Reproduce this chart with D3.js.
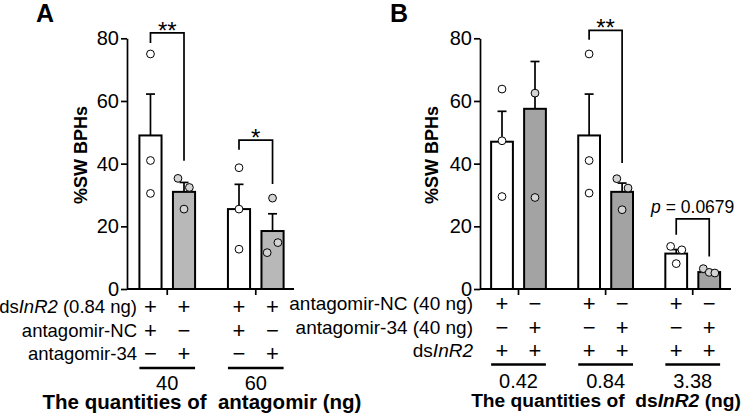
<!DOCTYPE html>
<html>
<head>
<meta charset="utf-8">
<script src="https://cdn.jsdelivr.net/npm/d3@7"></script>
<style>
  body { margin: 0; background: #fff; }
  svg { font-family: "Liberation Sans", Arial, sans-serif; }
  .axis path, .axis line { stroke: #000; stroke-width: 1.7px; }
  .axis text { font-size: 20px; fill: #000; }
</style>
</head>
<body>
<div id="chart"></div>
<script>
// ---- data ----
const yTicks = [0, 20, 40, 60, 80];

// panel A: antagomir dose series
const aGroups = ["40", "60"];
const aMeans = [49, 31, 25.5, 18.5];
const aErrTop = [62.2, 34, 33.4, 24];
const aPoints = [[75, 41, 30.5], [35.3, 32.4, 25.5], [38.7, 25.5, 12.7], [29, 11.6, 14.8]];
const aJitter = [[0, 0, 0], [-0.18, 0.16, 0], [0, 0, 0], [0, -0.16, 0.16]];
const aRowLabels = [["ds", "InR2", " (0.84 ng)"], ["antagomir-NC"], ["antagomir-34"]];
const aRowSigns = [["+", "+", "+", "+"], ["+", "−", "+", "−"], ["−", "+", "−", "+"]];

// panel B: dsInR2 dose series
const bGroups = ["0.42", "0.84", "3.38"];
const bMeans = [47, 57.5, 49, 31, 11.3, 5.4];
const bErrTop = [56.7, 72.6, 62.2, 33.8, 12.6, 6];
const bPoints = [[63.8, 47.3, 29.5], [62.5, 29.2], [75, 41, 30.6], [35.2, 32.2, 25.3], [13.6, 12.5, 8.1], [6.5, 5.3, 5.1]];
const bJitter = [[0, 0, 0], [0, 0], [0, 0, 0], [-0.16, 0.18, 0], [-0.17, 0.17, 0], [-0.18, 0, 0.17]];
const bRowLabels = [["antagomir-NC (40 ng)"], ["antagomir-34 (40 ng)"], ["ds", "InR2", ""]];
const bRowSigns = [["+", "−", "+", "−", "+", "−"], ["−", "+", "−", "+", "−", "+"], ["+", "+", "+", "+", "+", "+"]];

const W = 746, H = 415;
const svg = d3.select("#chart").append("svg").attr("width", W).attr("height", H);

function drawPanel(p) {
    const g = svg.append("g");
    const x = d3.scaleLinear().domain(p.xDomain).range([p.left, p.right]);
    const y = d3.scaleLinear().domain([0, 80]).range([289, 38.3]);
    const slot = i => Math.floor(i / 2) * 2.64 + (i % 2);
    const bw = 0.66;

    // panel letter
    g.append("text").attr("x", p.letterX).attr("y", 22)
        .style("font-size", "25px").style("font-weight", "bold").text(p.letter);

    // y axis
    g.append("g").attr("class", "axis")
        .attr("transform", `translate(${p.left},0)`)
        .call(d3.axisLeft(y).tickValues(yTicks).tickSize(6).tickPadding(2).tickSizeOuter(0));

    g.append("text")
        .attr("transform", `translate(${p.yLabelX},155) rotate(-90)`)
        .attr("text-anchor", "middle")
        .style("font-size", "18px").style("font-weight", "bold")
        .text("%SW BPHs");

    // bars
    g.selectAll(".bar").data(p.means).enter().append("rect")
        .attr("x", (d, i) => x(slot(i) - bw / 2))
        .attr("width", x(bw) - x(0))
        .attr("y", d => y(d))
        .attr("height", d => y(0) - y(d))
        .attr("fill", (d, i) => i % 2 ? p.gray : "#fff")
        .attr("stroke", "#000").attr("stroke-width", 2);

    // error bars (upper only)
    p.errTop.forEach((e, i) => {
        const cx = x(slot(i));
        g.append("line").attr("x1", cx).attr("x2", cx)
            .attr("y1", y(p.means[i])).attr("y2", y(e))
            .attr("stroke", "#000").attr("stroke-width", 1.7);
        g.append("line").attr("x1", cx - 4.5).attr("x2", cx + 4.5)
            .attr("y1", y(e)).attr("y2", y(e))
            .attr("stroke", "#000").attr("stroke-width", 1.7);
    });

    // x axis with group ticks
    g.append("line").attr("x1", p.left).attr("x2", p.right)
        .attr("y1", y(0)).attr("y2", y(0)).attr("stroke", "#000").attr("stroke-width", 1.9);
    p.groups.forEach((lab, k) => {
        const gx = x((slot(2 * k) + slot(2 * k + 1)) / 2);
        g.append("line").attr("x1", gx).attr("x2", gx)
            .attr("y1", y(0)).attr("y2", y(0) + 6).attr("stroke", "#000").attr("stroke-width", 1.7);
        g.append("line")
            .attr("x1", x(slot(2 * k) - bw / 2)).attr("x2", x(slot(2 * k + 1) + bw / 2))
            .attr("y1", p.underY).attr("y2", p.underY)
            .attr("stroke", "#000").attr("stroke-width", 2.5);
        g.append("text").attr("x", gx).attr("y", p.groupY)
            .attr("text-anchor", "middle").style("font-size", "20px").text(lab);
    });

    // data points
    p.points.forEach((pts, i) => {
        g.selectAll(null).data(pts).enter().append("circle")
            .attr("cx", (d, j) => x(slot(i) + p.jitter[i][j]))
            .attr("cy", d => y(d))
            .attr("r", 3.9)
            .attr("fill", i % 2 ? "#d4d4d4" : "#fff")
            .attr("stroke", "#000").attr("stroke-width", 1);
    });

    // significance brackets
    p.brackets.forEach(b => {
        const x1 = x(slot(b.a)), x2 = x(slot(b.b));
        g.append("path")
            .attr("d", `M${x1},${y(b.left)}V${y(b.top)}H${x2}V${y(b.right)}`)
            .attr("fill", "none").attr("stroke", "#000").attr("stroke-width", 1.7);
        const t = g.append("text").attr("x", (x1 + x2) / 2).attr("y", y(b.top) + b.dy)
            .attr("text-anchor", "middle").style("font-size", b.size + "px");
        if (b.label === "p") {
            t.append("tspan").style("font-style", "italic").text("p");
            t.append("tspan").text(" = 0.0679");
        } else {
            t.text(b.label);
        }
    });

    // treatment rows
    p.rowLabels.forEach((parts, r) => {
        const t = g.append("text").attr("x", p.rowLabelX).attr("y", p.rowY[r])
            .attr("text-anchor", "end").style("font-size", p.rowSize + "px");
        parts.forEach((s, k) => {
            t.append("tspan").style("font-style", parts.length === 3 && k === 1 ? "italic" : "normal").text(s);
        });
        p.rowSigns[r].forEach((s, i) => {
            g.append("text").attr("x", x(slot(i))).attr("y", p.rowY[r] + 1)
                .attr("text-anchor", "middle").style("font-size", "22px").text(s);
        });
    });

    // bottom title
    const tt = g.append("text").attr("x", p.titleX).attr("y", p.titleY)
        .attr("text-anchor", "middle").style("font-size", p.titleSize + "px").style("font-weight", "bold")
        .attr("xml:space", "preserve");
    p.title.forEach((s, k) => {
        tt.append("tspan").style("font-style", p.titleItalic === k ? "italic" : "normal").text(s);
    });
}

drawPanel({
    letter: "A", letterX: 36, left: 127, right: 294, xDomain: [-0.7, 4.28],
    yLabelX: 87, gray: "#b8b8b8",
    means: aMeans, errTop: aErrTop, points: aPoints, jitter: aJitter, groups: aGroups,
    underY: 368, groupY: 389.5,
    rowLabels: aRowLabels, rowSigns: aRowSigns, rowLabelX: 137, rowY: [313, 337, 360], rowSize: 18.5,
    brackets: [
        {a: 0, b: 1, top: 81.7, left: 78.5, right: 40.9, label: "**", size: 24, dy: 6},
        {a: 2, b: 3, top: 47.5, left: 44.4, right: 33.5, label: "*", size: 24, dy: 6}
    ],
    title: ["The quantities of  antagomir (ng)"], titleItalic: -1, titleX: 202, titleY: 409, titleSize: 20.5
});

drawPanel({
    letter: "B", letterX: 390, left: 480, right: 731, xDomain: [-0.667, 6.94],
    yLabelX: 438, gray: "#a3a3a3",
    means: bMeans, errTop: bErrTop, points: bPoints, jitter: bJitter, groups: bGroups,
    underY: 364.5, groupY: 387.5,
    rowLabels: bRowLabels, rowSigns: bRowSigns, rowLabelX: 473, rowY: [310, 334, 357], rowSize: 19,
    brackets: [
        {a: 2, b: 3, top: 82.5, left: 79.5, right: 40.2, label: "**", size: 24, dy: 6},
        {a: 4, b: 5, top: 22.4, left: 17.3, right: 10.4, label: "p", size: 17.5, dy: -6}
    ],
    title: ["The quantities of  ", "ds", "InR2", " (ng)"], titleItalic: 2, titleX: 606, titleY: 407, titleSize: 19.2
});
</script>
</body>
</html>
